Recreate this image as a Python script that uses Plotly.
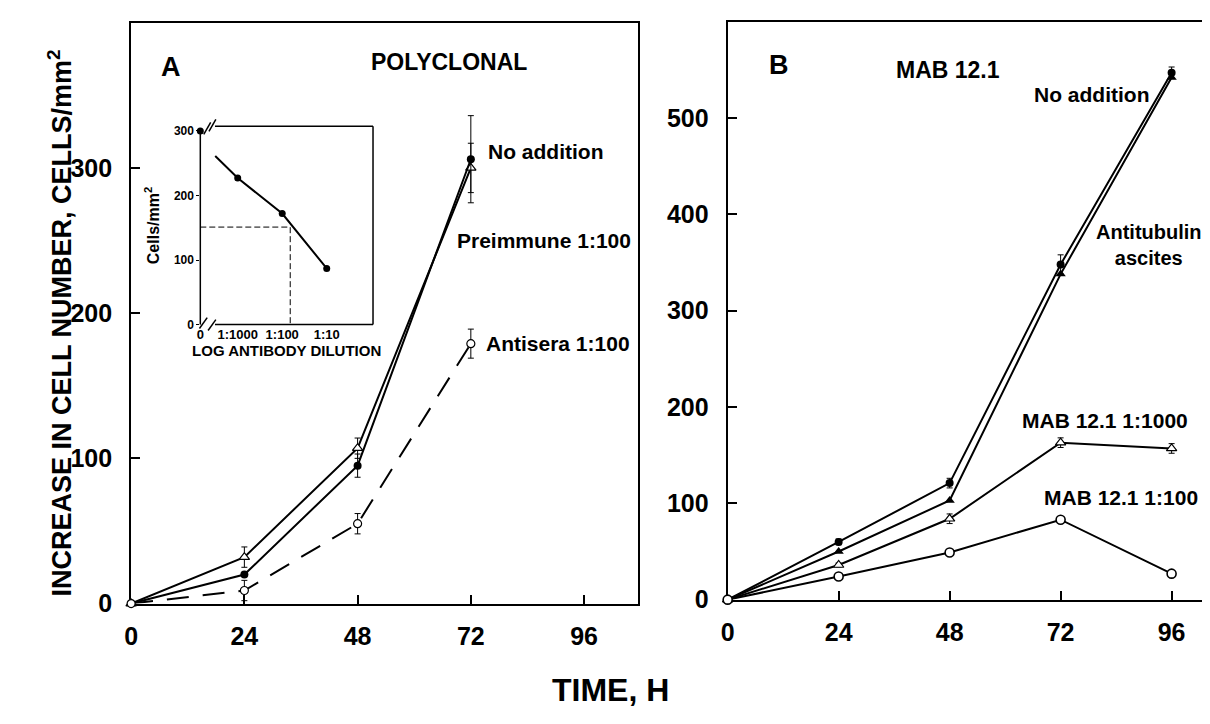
import plotly.graph_objects as go

# ---------------- data ----------------
# Panel A (polyclonal)
time_A = [0, 24, 48, 72]
noadd_A = [0, 20, 95, 306]
noadd_A_err = [0, 0, 8, 30]
preimm_A = [0, 32, 107, 300]
preimm_A_err = [0, 7, 7, 17]
antisera_A = [0, 9, 55, 179]
antisera_A_err = [0, 7, 7, 10]

# Panel B (MAB 12.1)
time_B = [0, 24, 48, 72, 96]
noadd_B = [0, 60, 121, 348, 547]
noadd_B_err = [0, 3, 5, 10, 6]
antitub_B = [0, 50, 103, 338, 542]
mab1000_B = [0, 36, 84, 163, 157]
mab1000_B_err = [0, 2, 5, 5, 5]
mab100_B = [0, 24, 49, 83, 27]
mab100_B_err = [0, 0, 0, 2, 3]

# Inset (dose response)
inset_ticks = ["0", "1:1000", "1:100", "1:10"]
inset_tick_pos = [0, 0.84, 1.84, 2.84]
inset_pts_x = [0.84, 1.84, 2.84]
inset_pts_y = [227, 172, 87]
inset_line_x = [0.335, 0.84, 1.84, 2.84]
inset_line_y = [261, 227, 172, 87]
inset_zero_x = [0]
inset_zero_y = [300]
inset_ref_x = [0, 2.02, 2.02]
inset_ref_y = [151, 151, 0]

x_ticks = [0, 24, 48, 72, 96]
yA_ticks = [0, 100, 200, 300]
yB_ticks = [0, 100, 200, 300, 400, 500]
inset_y_ticks = [0, 100, 200, 300]

FONT = "Liberation Sans, Arial, sans-serif"
W, H = 1210, 724

fig = go.Figure()


def err(vals):
    return dict(type="data", array=vals, visible=True, color="black", thickness=1, width=3)


# ---- Panel A traces ----
fig.add_trace(go.Scatter(x=time_A, y=preimm_A, mode="lines+markers", xaxis="x", yaxis="y",
                         line=dict(color="black", width=2), cliponaxis=False,
                         marker=dict(symbol="triangle-up", size=9, color="white",
                                     line=dict(color="black", width=1.2)),
                         error_y=err(preimm_A_err)))
fig.add_trace(go.Scatter(x=time_A, y=noadd_A, mode="lines+markers", xaxis="x", yaxis="y",
                         line=dict(color="black", width=2), cliponaxis=False,
                         marker=dict(symbol="circle", size=8, color="black"),
                         error_y=err(noadd_A_err)))
fig.add_trace(go.Scatter(x=time_A, y=antisera_A, mode="lines+markers", xaxis="x", yaxis="y",
                         line=dict(color="black", width=2, dash="22px,14px"), cliponaxis=False,
                         marker=dict(symbol="circle", size=8, color="white",
                                     line=dict(color="black", width=1.2)),
                         error_y=err(antisera_A_err)))

# ---- Panel B traces ----
fig.add_trace(go.Scatter(x=time_B, y=antitub_B, mode="lines+markers", xaxis="x2", yaxis="y2",
                         line=dict(color="black", width=2), cliponaxis=False,
                         marker=dict(symbol="triangle-up", size=9, color="black")))
fig.add_trace(go.Scatter(x=time_B, y=noadd_B, mode="lines+markers", xaxis="x2", yaxis="y2",
                         line=dict(color="black", width=2), cliponaxis=False,
                         marker=dict(symbol="circle", size=8, color="black"),
                         error_y=err(noadd_B_err)))
fig.add_trace(go.Scatter(x=time_B, y=mab1000_B, mode="lines+markers", xaxis="x2", yaxis="y2",
                         line=dict(color="black", width=2), cliponaxis=False,
                         marker=dict(symbol="triangle-up", size=9, color="white",
                                     line=dict(color="black", width=1.2)),
                         error_y=err(mab1000_B_err)))
fig.add_trace(go.Scatter(x=time_B, y=mab100_B, mode="lines+markers", xaxis="x2", yaxis="y2",
                         line=dict(color="black", width=2), cliponaxis=False,
                         marker=dict(symbol="circle", size=9, color="white",
                                     line=dict(color="black", width=1.6)),
                         error_y=err(mab100_B_err)))

# ---- Inset traces ----
fig.add_trace(go.Scatter(x=inset_ref_x, y=inset_ref_y, mode="lines", xaxis="x3", yaxis="y3",
                         line=dict(color="black", width=1, dash="6px,3px")))
fig.add_trace(go.Scatter(x=inset_line_x, y=inset_line_y, mode="lines", xaxis="x3", yaxis="y3",
                         line=dict(color="black", width=2)))
fig.add_trace(go.Scatter(x=inset_pts_x, y=inset_pts_y, mode="markers", xaxis="x3", yaxis="y3",
                         marker=dict(symbol="circle", size=7, color="black")))
fig.add_trace(go.Scatter(x=inset_zero_x, y=inset_zero_y, mode="markers", xaxis="x3", yaxis="y3",
                         marker=dict(symbol="circle", size=7, color="black"), cliponaxis=False))

tickfont = dict(family=FONT, size=25, color="black", weight="bold")
main_axis = dict(showline=True, linecolor="black", linewidth=2, mirror=True,
                 ticks="inside", ticklen=9, tickwidth=1.5, tickcolor="black",
                 showgrid=False, zeroline=False, tickfont=tickfont, layer="below traces")


def px_x(p):
    return p / W


def px_y(p):
    return 1 - p / H


fig.update_layout(
    width=W, height=H,
    margin=dict(l=0, r=0, t=0, b=0),
    paper_bgcolor="white", plot_bgcolor="white",
    showlegend=False,
    xaxis=dict(main_axis, domain=[px_x(117), px_x(628)], range=[0, 107.5],
               tickvals=x_ticks, ticklabelstandoff=9, anchor="y"),
    yaxis=dict(main_axis, domain=[px_y(607), px_y(13)], range=[0, 400],
               tickvals=yA_ticks, ticklabelstandoff=12, anchor="x"),
    xaxis2=dict(main_axis, domain=[px_x(718), 1.0], range=[0, 105.6],
                tickvals=x_ticks, ticklabelstandoff=9, anchor="y2"),
    yaxis2=dict(main_axis, domain=[px_y(603), px_y(12)], range=[0, 600],
                tickvals=yB_ticks, ticklabelstandoff=12, anchor="x2"),
    xaxis3=dict(domain=[px_x(186.7), px_x(360.7)], range=[0, 3.88], anchor="y3",
                showline=False, showgrid=False, zeroline=False,
                tickvals=inset_tick_pos, ticktext=inset_ticks, ticks="",
                tickfont=dict(family=FONT, size=13, color="black", weight="bold"),
                title=dict(text="LOG ANTIBODY DILUTION", standoff=4,
                           font=dict(family=FONT, size=15, color="black", weight="bold"))),
    yaxis3=dict(domain=[px_y(321.7), px_y(119)], range=[0, 307], anchor="x3",
                showline=False, showgrid=False, zeroline=False,
                tickvals=inset_y_ticks, ticks="outside", ticklen=3, tickcolor="black",
                tickfont=dict(family=FONT, size=12, color="black", weight="bold"),
                title=dict(text="Cells/mm<sup>2</sup>", standoff=10,
                           font=dict(family=FONT, size=16, color="black", weight="bold"))),
)

# inset frame with axis breaks
frame = dict(type="line", line=dict(color="black", width=1.5))
shapes = [
    dict(frame, xref="x3 domain", yref="y3 domain", x0=0, x1=0, y0=0, y1=0.985),
    dict(frame, xref="x3 domain", yref="y3 domain", x0=1, x1=1, y0=0, y1=1),
    dict(frame, xref="x3 domain", yref="y3 domain", x0=0.085, x1=1, y0=1, y1=1),
    dict(frame, xref="x3 domain", yref="y3 domain", x0=0.085, x1=1, y0=0, y1=0),
    # break slashes bottom
    dict(frame, xref="x3 domain", yref="y3 domain", x0=-0.005, x1=0.04, y0=-0.02, y1=0.035),
    dict(frame, xref="x3 domain", yref="y3 domain", x0=0.045, x1=0.09, y0=-0.03, y1=0.025),
    # break slashes top
    dict(frame, xref="x3 domain", yref="y3 domain", x0=0.02, x1=0.06, y0=0.96, y1=1.02),
    dict(frame, xref="x3 domain", yref="y3 domain", x0=0.05, x1=0.09, y0=0.975, y1=1.035),
]
fig.update_layout(shapes=shapes)


def ann(text, x, y, size=21, **kw):
    return dict(text=text, x=px_x(x), y=px_y(y), xref="paper", yref="paper",
                showarrow=False, xanchor="center", yanchor="middle",
                font=dict(family=FONT, size=size, color="black", weight="bold"), **kw)


annotations = [
    ann("A", 157, 58, 27),
    ann("POLYCLONAL", 437, 53, 23),
    ann("No addition", 534, 145),
    ann("Preimmune 1:100", 533, 236),
    ann("Antisera 1:100", 547, 341),
    ann("B", 770, 56, 27),
    ann("MAB 12.1", 940, 61, 23),
    ann("No addition", 1085, 86),
    ann("Antitubulin<br>ascites", 1143, 240, 20),
    ann("MAB 12.1 1:1000", 1098, 420),
    ann("MAB 12.1 1:100", 1114, 499),
    ann("INCREASE IN CELL NUMBER, CELLS/mm<sup>2</sup>", 45, 320, 27, textangle=-90),
    ann("TIME, H", 600, 695, 32),
]
fig.update_layout(annotations=annotations)

fig.write_html("out.html")
